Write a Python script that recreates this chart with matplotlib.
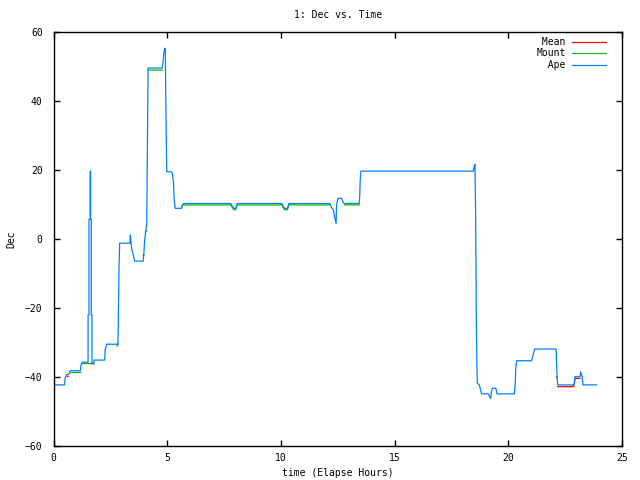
import numpy as np
import matplotlib.pyplot as plt

nan = np.nan

# Ape: declination track (hours since start, degrees)
ape_t = [0.00, 0.48, 0.50, 0.56, 0.70, 0.72, 1.17, 1.20, 1.26, 1.51, 1.51, 1.55, 1.55, 1.60,
         1.60, 1.62, 1.62, 1.65, 1.65, 1.68, 1.68, 1.77, 1.77, 2.24, 2.26, 2.33, 2.80, 2.82,
         2.84, 2.87, 2.90, 3.35, 3.37, 3.39, 3.43, 3.50, 3.56, 3.93, 3.96, 4.00, 4.05, 4.09,
         4.12, 4.15, 4.77, 4.80, 4.84, 4.88, 4.91, 4.92, 4.95, 4.97, 5.18, 5.22, 5.27, 5.30,
         5.34, 5.62, 5.66, 5.70, 7.79, 7.85, 7.92, 8.00, 8.07, 10.04, 10.10, 10.16, 10.28, 10.34,
         12.15, 12.22, 12.30, 12.36, 12.42, 12.44, 12.50, 12.66, 12.72, 12.78, 13.44, 13.46,
         13.48, 13.51, 18.46, 18.50, 18.53, 18.56, 18.59, 18.63, 18.72, 18.76, 18.82, 19.12,
         19.17, 19.22, 19.25, 19.29, 19.45, 19.50, 20.26, 20.30, 20.32, 20.36, 21.02, 21.07,
         21.11, 21.16, 22.10, 22.11, 22.14, 22.17, 22.86, 22.90, 22.93, 23.15, 23.18, 23.22,
         23.25, 23.28, 23.88]
ape_dec = [-42.3, -42.3, -40.3, -39.4, -39.0, -38.2, -38.2, -36.5, -35.7, -35.7, -22.0, -22.0, 5.7, 5.7,
           19.7, 19.7, 5.7, 5.7, -22.0, -22.0, -36.0, -36.0, -35.1, -35.1, -32.2, -30.5, -30.5, -30.7,
           -23.5, -8.5, -1.2, -1.2, 1.2, -0.3, -3.0, -4.6, -6.4, -6.4, -4.4, -0.3, 2.6, 4.3,
           27.2, 49.6, 49.6, 50.9, 53.8, 55.3, 55.3, 46.3, 28.7, 19.5, 19.5, 19.0, 16.1, 11.3,
           8.9, 8.9, 9.6, 10.3, 10.3, 9.6, 8.9, 8.9, 10.3, 10.3, 9.4, 8.9, 8.9, 10.3,
           10.3, 9.1, 8.4, 6.3, 4.5, 9.9, 11.8, 11.8, 10.8, 10.3, 10.3, 12.5,
           17.1, 19.7, 19.7, 21.2, 21.7, 6.0, -25.9, -41.8, -42.3, -43.3, -44.9, -44.9,
           -45.7, -46.3, -44.3, -43.3, -43.3, -44.9, -44.9, -42.0, -37.8, -35.3, -35.3, -34.1,
           -33.0, -31.9, -31.9, -34.6, -39.7, -42.3, -42.3, -41.8, -39.9, -39.9, -38.5, -39.5,
           -40.3, -42.3, -42.3]

# Mount: reported mount position (visible pieces, gaps as nan)
mount_t = [0.75, 1.19, nan, 1.26, 1.63, nan, 2.78, 2.82, nan, 3.93, 3.97, nan, 4.05, 4.09, nan,
           4.15, 4.77, nan, 5.62, 5.66, 5.70, 7.79, 7.85, 7.92, 8.00, 8.07, 10.04, 10.10, 10.16,
           10.28, 10.34, 12.15, nan, 12.78, 13.44]
mount_dec = [-38.7, -38.7, nan, -36.1, -36.1, nan, -31.0, -31.0, nan, -4.7, -4.7, nan, 2.3, 2.3, nan,
             49.0, 49.0, nan, 9.3, 9.8, 9.9, 9.9, 9.2, 8.5, 8.5, 9.9, 9.9, 9.0, 8.5,
             8.5, 9.9, 9.9, nan, 9.9, 9.9]

# Mean
mean_t = [0.58, 0.65, nan, 1.66, 1.76, nan, 22.12, 22.14, nan, 22.17, 22.86, 22.90, 22.93, 23.15]
mean_dec = [-39.8, -39.8, nan, -36.2, -36.2, nan, -39.9, -40.3, nan, -42.8, -42.8, -42.0, -40.4, -40.4]

labels = [' Mean', 'Mount', '  Ape']   # padded so the monospace text lines up on the right

plt.rcParams['font.family'] = 'DejaVu Sans Mono'
plt.rcParams['font.size'] = 7

fig, ax = plt.subplots(figsize=(6.4, 4.8), dpi=100)
fig.subplots_adjust(left=0.084, right=0.972, top=0.933, bottom=0.071)

ax.plot(mean_t, mean_dec, color='#ff0000', lw=0.9, label=labels[0])
ax.plot(mount_t, mount_dec, color='#00c000', lw=0.9, label=labels[1])
ax.plot(ape_t, ape_dec, color='#0080ff', lw=0.9, label=labels[2])

ax.set_xlim(0, 25)
ax.set_ylim(-60, 60)
ax.set_xticks(np.arange(0, 26, 5))
ax.set_yticks(np.arange(-60, 61, 20))
ax.tick_params(direction='in', length=4, width=1, top=True, right=True)
ax.tick_params(axis='y', pad=8)
ax.tick_params(axis='x', pad=5)
for s in ax.spines.values():
    s.set_linewidth(1)

ax.set_title('1: Dec vs. Time', fontsize=7, pad=10)
ax.set_xlabel('time (Elapse Hours)', labelpad=4)
ax.set_ylabel('Dec', labelpad=6)

ax.legend(loc='upper right', bbox_to_anchor=(0.981, 1.0), frameon=False, markerfirst=False,
          handlelength=3.5, handletextpad=0.7, labelspacing=0.15, borderpad=0)

fig.savefig('out.png', dpi=100)
